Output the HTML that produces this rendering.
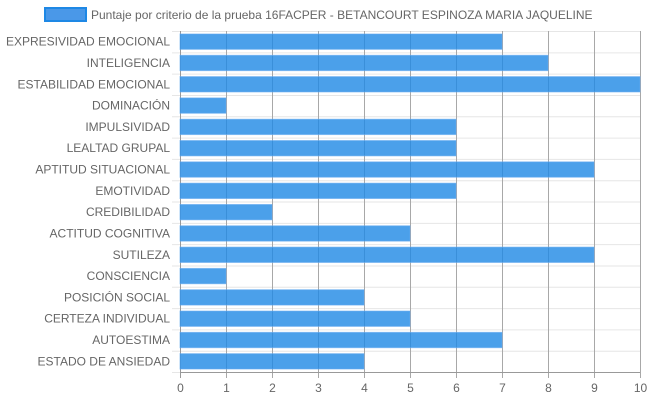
<!DOCTYPE html>
<html><head><meta charset="utf-8"><style>
body{margin:0;background:#fff;}
svg text{font-family:"Liberation Sans",Arial,sans-serif;font-size:12px;fill:#666;}
</style></head><body>
<svg id="c" width="650" height="400">
<g id="legend">
<rect x="45" y="8" width="41" height="13" fill="#4a98e8" stroke="#1e88e5" stroke-width="2"></rect>
<text x="91" y="19">Puntaje por criterio de la prueba 16FACPER - BETANCOURT ESPINOZA MARIA JAQUELINE</text>
</g>
<g id="grid"></g><g id="bars"></g><g id="axes"></g>
</svg>
<script>
const categories=["EXPRESIVIDAD EMOCIONAL","INTELIGENCIA","ESTABILIDAD EMOCIONAL","DOMINACIÓN","IMPULSIVIDAD","LEALTAD GRUPAL","APTITUD SITUACIONAL","EMOTIVIDAD","CREDIBILIDAD","ACTITUD COGNITIVA","SUTILEZA","CONSCIENCIA","POSICIÓN SOCIAL","CERTEZA INDIVIDUAL","AUTOESTIMA","ESTADO DE ANSIEDAD"];
const values=[7,8,10,1,6,6,9,6,2,5,9,1,4,5,7,4];
const tickLabels=["0","1","2","3","4","5","6","7","8","9","10"];
const NS="http://www.w3.org/2000/svg";
const L=180,R=640,T=31,B=372,xmax=10;
const x=v=>L+(R-L)*v/xmax;
const rowH=(B-T)/categories.length;
const y=i=>T+rowH*i;
function mk(tag,attrs,parent){const e=document.createElementNS(NS,tag);for(const k in attrs)e.setAttribute(k,attrs[k]);parent.appendChild(e);return e;}
const grid=document.getElementById('grid'),bars=document.getElementById('bars'),axes=document.getElementById('axes');
for(let i=0;i<=categories.length;i++){
  const l=mk('line',{x1:L-8,x2:R,y1:y(i)+0.5,y2:y(i)+0.5,stroke:'#e6e6e6'},grid);
  
  
}
tickLabels.forEach((t,i)=>{
  const xx=Math.round(x(+t))+0.5;
  const l=mk('line',{x1:xx,x2:xx,y1:T,y2:B+6,stroke:i==0?'#999':'#a8a8a8'},grid);
  
  
  const tx=mk('text',{x:xx,y:B+20,'text-anchor':'middle'},axes);
  tx.textContent=t;
  
  
});
categories.forEach((c,i)=>{
  const h=rowH*0.72,by=y(i)+(rowH-h)/2;
  const r=mk('rect',{x:x(0),y:by,width:x(values[i])-x(0),height:h,fill:'rgba(30,136,229,0.8)',stroke:'rgba(100,170,240,0.6)','stroke-width':1},bars);
  
  
  const tx=mk('text',{x:L-10,y:y(i)+rowH/2+4,'text-anchor':'end'},axes);
  tx.textContent=c;
  
  
});
const ax=mk('line',{x1:L,x2:R,y1:B+0.5,y2:B+0.5,stroke:'#999'},axes);


</script>
</body></html>
